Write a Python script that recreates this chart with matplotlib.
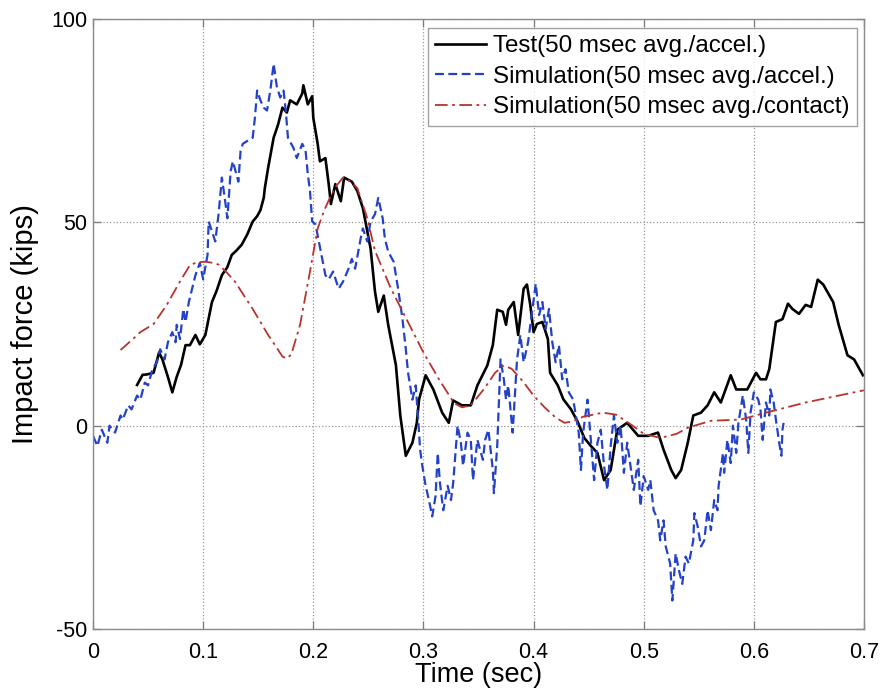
import numpy as np
import matplotlib
matplotlib.use("Agg")
import matplotlib.pyplot as plt

plt.rcParams["font.family"] = ["Liberation Sans", "DejaVu Sans"]
plt.rcParams["axes.unicode_minus"] = False

# === DATA ===
# Test (50 msec avg./accel.)
t_test = [0.040, 0.045, 0.049, 0.055, 0.060, 0.063, 0.068, 0.072, 0.076, 0.080,
          0.084, 0.088, 0.093, 0.097, 0.102, 0.108, 0.112, 0.117, 0.122, 0.126,
          0.130, 0.135, 0.140, 0.145, 0.149, 0.152, 0.155, 0.156, 0.159, 0.164,
          0.168, 0.172, 0.176, 0.179, 0.185, 0.190, 0.191, 0.195, 0.199, 0.200,
          0.204, 0.206, 0.211, 0.214, 0.216, 0.220, 0.225, 0.228, 0.235, 0.240,
          0.245, 0.252, 0.256, 0.259, 0.264, 0.268, 0.275, 0.279, 0.284, 0.290,
          0.294, 0.296, 0.302, 0.309, 0.317, 0.323, 0.327, 0.335, 0.343, 0.349,
          0.358, 0.363, 0.367, 0.372, 0.375, 0.377, 0.382, 0.386, 0.391, 0.394,
          0.397, 0.400, 0.403, 0.408, 0.413, 0.415, 0.422, 0.427, 0.434, 0.440,
          0.446, 0.452, 0.458, 0.464, 0.470, 0.476, 0.485, 0.495, 0.504, 0.513,
          0.518, 0.525, 0.529, 0.534, 0.540, 0.545, 0.552, 0.558, 0.564, 0.570,
          0.579, 0.584, 0.594, 0.602, 0.606, 0.611, 0.614, 0.620, 0.626, 0.631,
          0.635, 0.641, 0.647, 0.652, 0.658, 0.663, 0.672, 0.677, 0.685, 0.691,
          0.699]
f_test = [10, 12.5, 12.6, 13, 18, 16.3, 12, 8.2, 12, 15,
          19.8, 19.8, 22.3, 20, 22.3, 30.4, 33, 37, 39, 42,
          43, 44.5, 47, 50.2, 51.5, 53, 56, 58.4, 63.4, 70.8,
          74, 78.2, 77, 80, 79, 81.7, 83.7, 79, 81, 75.7,
          69.3, 65, 65.8, 59.4, 54.5, 59.4, 55.2, 61, 60, 57.7,
          53.5, 43.6, 33, 28, 32, 24.8, 14.9, 2.5, -7.4, -4.2,
          0.7, 6.4, 12.4, 8.9, 3.2, 0.7, 6.2, 5, 5, 9.9,
          14.8, 19.8, 28.5, 28, 24.8, 28.5, 30.4, 22.3, 33.7, 34.7,
          29.7, 23, 25, 25.5, 21.3, 13, 9.9, 6.5, 4, 1,
          -3, -5, -6.7, -13.4, -10.9, -1, 0.7, -2.5, -2.5, -1.7,
          -5.9, -10.9, -12.9, -10.9, -4.2, 2.5, 3.2, 5, 8.2, 5.7,
          12.4, 8.9, 8.9, 13, 11.4, 11.4, 13.9, 25.5, 26.2, 30,
          28.7, 27.5, 29.7, 29.2, 35.9, 34.7, 30.4, 24.8, 17.3, 16.3,
          12.4]

# Simulation (50 msec avg./accel.)
t_acc = [0.000, 0.004, 0.008, 0.013, 0.015, 0.020, 0.025, 0.027, 0.032, 0.035,
         0.040, 0.043, 0.047, 0.050, 0.054, 0.058, 0.061, 0.065, 0.068, 0.072,
         0.075, 0.076, 0.079, 0.082, 0.084, 0.087, 0.090, 0.093, 0.097, 0.100,
         0.104, 0.105, 0.108, 0.111, 0.114, 0.117, 0.120, 0.122, 0.125, 0.127,
         0.132, 0.134, 0.136, 0.140, 0.145, 0.147, 0.149, 0.152, 0.155, 0.158,
         0.161, 0.164, 0.167, 0.170, 0.173, 0.175, 0.177, 0.182, 0.185, 0.190,
         0.193, 0.195, 0.197, 0.199, 0.202, 0.205, 0.208, 0.211, 0.214, 0.218,
         0.223, 0.227, 0.232, 0.235, 0.238, 0.243, 0.245, 0.249, 0.252, 0.256,
         0.259, 0.263, 0.265, 0.268, 0.273, 0.277, 0.281, 0.284, 0.286, 0.290,
         0.293, 0.295, 0.297, 0.299, 0.302, 0.305, 0.308, 0.311, 0.313, 0.315,
         0.318, 0.322, 0.325, 0.327, 0.331, 0.334, 0.336, 0.340, 0.343, 0.345,
         0.349, 0.354, 0.356, 0.359, 0.363, 0.364, 0.367, 0.370, 0.373, 0.375,
         0.377, 0.381, 0.385, 0.388, 0.391, 0.395, 0.399, 0.402, 0.405, 0.408,
         0.411, 0.414, 0.417, 0.420, 0.423, 0.426, 0.429, 0.432, 0.436, 0.441,
         0.443, 0.445, 0.449, 0.452, 0.455, 0.458, 0.461, 0.464, 0.467, 0.470,
         0.473, 0.476, 0.479, 0.482, 0.485, 0.488, 0.491, 0.495, 0.497, 0.500,
         0.504, 0.506, 0.509, 0.513, 0.515, 0.518, 0.520, 0.524, 0.526, 0.529,
         0.532, 0.535, 0.538, 0.541, 0.545, 0.546, 0.549, 0.552, 0.555, 0.558,
         0.561, 0.564, 0.567, 0.568, 0.572, 0.573, 0.576, 0.579, 0.581, 0.584,
         0.586, 0.590, 0.593, 0.595, 0.597, 0.600, 0.604, 0.606, 0.608, 0.611,
         0.614, 0.615, 0.618, 0.620, 0.623, 0.625, 0.626, 0.627]
f_acc = [-2.5, -5, -1, -4.2, 0, -1.7, 2.5, 1.5, 5, 4,
         7.4, 6.4, 10.6, 9.9, 13.9, 15.6, 18.8, 16.3, 20.5, 23,
         20.5, 24.8, 21.3, 28.7, 25.5, 30.4, 33.7, 37, 40, 36,
         42, 50.2, 47.8, 45.3, 52, 61, 55.2, 51, 62.6, 65,
         60, 67.6, 69.3, 70, 70.8, 75.7, 82.4, 80, 78.2, 77.5,
         82.4, 89, 83.2, 80.7, 82.4, 77.5, 70.8, 68.3, 65.8, 69.3,
         67.6, 61.9, 57.7, 50.2, 49.5, 45.3, 41, 37, 36, 37.9,
         33.7, 35.4, 38.6, 41, 38.6, 46, 48.5, 45.3, 50.2, 52,
         56, 51, 46, 42.8, 40.3, 33.7, 26.2, 18.8, 13.1, 6.4,
         9.9, 2.5, -5.9, -9.9, -14.8, -18.3, -22.3, -17.3, -6.7, -14.1,
         -20.8, -14.8, -18.3, -14.1, 0, -4.2, -9.9, -1.7, -3.5, -13.4,
         -3.5, -8.4, -3.5, -1, -10.9, -16.6, -5, 16.3, 11.4, 6.4,
         9.9, -1.7, 16.3, 22.3, 15.6, 20.5, 28.7, 34.9, 27.2, 30.4,
         23.8, 28.7, 20.5, 15.6, 19.8, 11.4, 13.9, 8.2, 6.4, -1.7,
         -10.9, -1.7, 6.4, -3.5, -13.4, -4.2, -1, -9.9, -15.8, -5,
         2.5, -4.2, 0, -11.6, -4.2, -9.9, -15.8, -8.4, -19.8, -12.4,
         -15.8, -13.4, -20.8, -23.3, -28.2, -23.3, -29.7, -33.9, -43, -31.4,
         -35.6, -38.9, -32.2, -33.9, -28.2, -21.5, -24.8, -29.7, -28.2, -20.8,
         -25.7, -18.3, -20.8, -14.8, -6.7, -11.6, -3.5, -9.2, 0, -6.7,
         0.7, 7.4, 1.5, -6.7, 3.2, 8.2, 6.4, 4, -3.5, 5.7,
         2.5, 8.9, 5.7, 1.5, -4.2, -7.4, -1, 0.7]

# Simulation (50 msec avg./contact)
t_con = [0.025, 0.035, 0.043, 0.055, 0.067, 0.078, 0.088, 0.095, 0.102, 0.110,
         0.114, 0.122, 0.129, 0.137, 0.145, 0.152, 0.159, 0.166, 0.172, 0.176,
         0.180, 0.188, 0.197, 0.204, 0.210, 0.215, 0.221, 0.227, 0.234, 0.240,
         0.249, 0.256, 0.270, 0.285, 0.300, 0.315, 0.328, 0.335, 0.343, 0.355,
         0.365, 0.373, 0.380, 0.390, 0.400, 0.410, 0.420, 0.428, 0.435, 0.445,
         0.463, 0.475, 0.490, 0.500, 0.515, 0.530, 0.540, 0.561, 0.588, 0.611,
         0.647, 0.677, 0.700]
f_con = [18.6, 21, 23, 25, 29.7, 35, 39.5, 40.2, 40.3, 40,
         39.6, 37.5, 35.4, 32, 28.7, 25.5, 22.3, 19.5, 17, 16.5,
         17.5, 24.8, 37.9, 48.5, 53, 56, 59, 61, 60, 58.4,
         51, 43, 34, 26, 18, 11, 5.5, 4.5, 5, 9,
         13, 14.8, 14, 11, 7.4, 4.5, 2, 0.7, 1, 2.2,
         3.2, 2.7, 0, -2, -3, -2, -0.5, 1.2, 1.5, 3.2,
         5.7, 7.4, 8.7]

labels = ["Test(50 msec avg./accel.)",
          "Simulation(50 msec avg./accel.)",
          "Simulation(50 msec avg./contact)"]

# === FIGUR ===
fig = plt.figure(figsize=(8.83, 6.92), dpi=100)
ax = fig.add_axes([93 / 883, 1 - 629 / 692, 771 / 883, 610 / 692])

ax.plot(t_test, f_test, color="black", lw=1.9, label=labels[0])
ax.plot(t_acc, f_acc, color="#2342c8", lw=1.6, dashes=(4, 2), label=labels[1])
ax.plot(t_con, f_con, color="#b8332e", lw=1.3, dashes=(7, 2.5, 1.5, 2.5), label=labels[2])

ax.set_xlim(0, 0.7)
ax.set_ylim(-50, 100)
ax.set_xticks(np.arange(0, 0.71, 0.1))
ax.set_xticklabels(["0", "0.1", "0.2", "0.3", "0.4", "0.5", "0.6", "0.7"])
ax.set_yticks([-50, 0, 50, 100])
ax.grid(True, linestyle=":", color="#9a9a9a", lw=0.9)
ax.tick_params(direction="in", top=True, right=True, length=6, width=0.9,
               color="#7a7a7a", labelsize=15.5)
ax.tick_params(axis="x", pad=9)
ax.tick_params(axis="y", pad=4)
for s in ax.spines.values():
    s.set_color("#8a8a8a")
    s.set_linewidth(1.0)

ax.set_xlabel("Time (sec)", fontsize=19.5, labelpad=0)
ax.set_ylabel("Impact force (kips)", fontsize=21, labelpad=9)

leg = ax.legend(loc="upper right", bbox_to_anchor=(0.991, 0.985), borderaxespad=0,
                fontsize=17.4, frameon=True, fancybox=False, handlelength=2.1,
                handletextpad=0.3, labelspacing=0.35, borderpad=0.3)
leg.get_frame().set_edgecolor("#8a8a8a")
leg.get_frame().set_linewidth(1.0)

fig.savefig("out.png", dpi=100)
